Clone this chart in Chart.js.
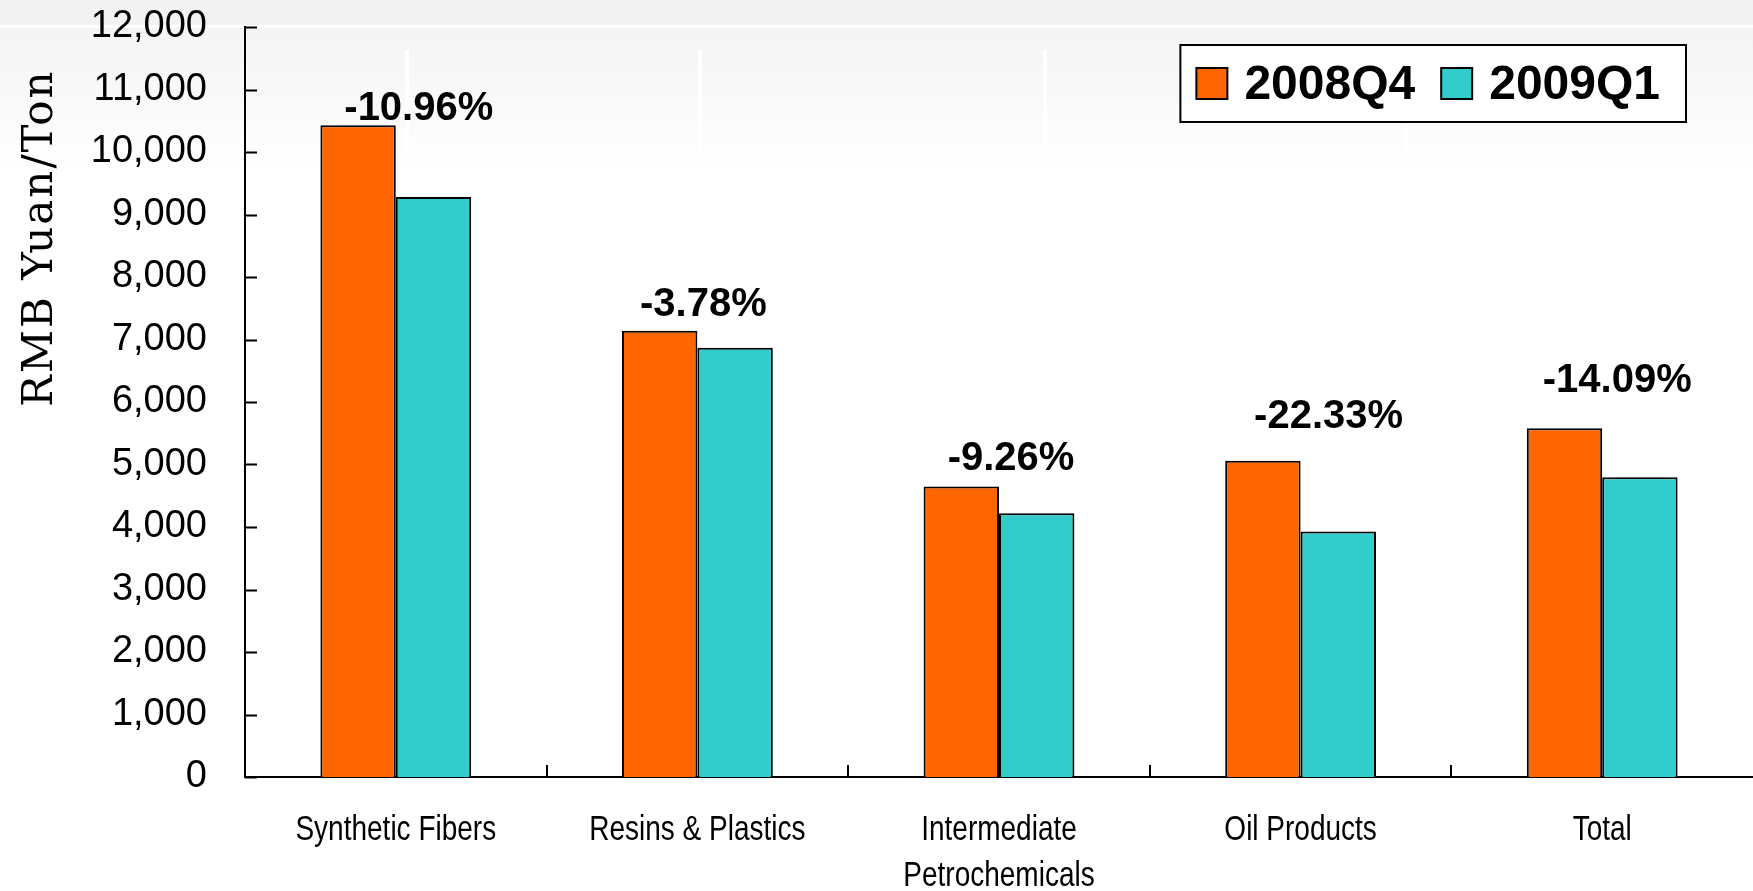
<!DOCTYPE html>
<html>
<head>
<meta charset="utf-8">
<script src="https://cdn.jsdelivr.net/npm/chart.js@4.4.1/dist/chart.umd.min.js"></script>
<style>
  html, body { margin: 0; padding: 0; background: #fff; }
  #wrap { width: 1753px; height: 891px; }
</style>
</head>
<body>
<div id="wrap"><canvas id="chart" width="1753" height="891"></canvas></div>
<script>
/* ── Data ──────────────────────────────────────────────── */
const categories   = [["Synthetic Fibers"], ["Resins & Plastics"], ["Intermediate", "Petrochemicals"], ["Oil Products"], ["Total"]];
const seriesNames  = ["2008Q4", "2009Q1"];
const price2008Q4  = [10430, 7140, 4650, 5060, 5580];
const price2009Q1  = [9280, 6870, 4220, 3930, 4795];
const changeLabels = ["-10.96%", "-3.78%", "-9.26%", "-22.33%", "-14.09%"];
const yMin = 0, yMax = 12000, yStep = 1000;
const yTitle = "RMB Yuan/Ton";

const ORANGE = "#FF6600";
const TEAL   = "#33CCCC";
const SANS   = "'Liberation Sans', Arial, sans-serif";

/* ── Slide-ish background ──────────────────────────────── */
const backdrop = {
  id: "backdrop",
  beforeDraw(chart) {
    const { ctx, width, height } = chart;
    ctx.save();
    ctx.fillStyle = "#fff";
    ctx.fillRect(0, 0, width, height);
    ctx.fillStyle = "#f2f2f2";
    ctx.fillRect(0, 0, width, 25);
    const g = ctx.createLinearGradient(0, 28, 0, 175);
    g.addColorStop(0, "#f4f4f4");
    g.addColorStop(1, "#ffffff");
    ctx.fillStyle = g;
    ctx.fillRect(0, 28, width, 147);
    ctx.fillStyle = "rgba(255,255,255,0.95)";
    [407, 700, 1045, 1406].forEach(x => ctx.fillRect(x - 2, 50, 4, 100));
    ctx.restore();
  },
};

/* ── Inner ticks, category text, change labels, y title, legend box ── */
const decorations = {
  id: "decorations",
  afterDraw(chart, args, opts) {
    const { ctx, chartArea, scales } = chart;
    const x = scales.x, y = scales.y;
    ctx.save();

    // ticks pointing into the plot
    ctx.strokeStyle = "#000";
    ctx.lineWidth = 2;
    ctx.beginPath();
    y.ticks.forEach((t, i) => {
      const py = Math.round(y.getPixelForTick(i)) + 0.5;
      ctx.moveTo(chartArea.left, py);
      ctx.lineTo(chartArea.left + 12, py);
    });
    for (let i = 1; i < categories.length; i++) {
      const px = Math.round((x.getPixelForValue(i - 1) + x.getPixelForValue(i)) / 2);
      ctx.moveTo(px, chartArea.bottom);
      ctx.lineTo(px, chartArea.bottom - 12);
    }
    ctx.stroke();

    // category names, in a narrow face
    ctx.fillStyle = "#000";
    ctx.font = "35px " + SANS;
    ctx.textAlign = "center";
    ctx.textBaseline = "middle";
    categories.forEach((lines, i) => {
      const px = x.getPixelForValue(i);
      lines.forEach((ln, k) => {
        ctx.save();
        ctx.translate(px, chartArea.bottom + 53 + k * 46);
        ctx.scale(0.8, 1);
        ctx.fillText(ln, 0, 0);
        ctx.restore();
      });
    });

    // percentage change above each group
    const m0 = chart.getDatasetMeta(0).data;
    const m1 = chart.getDatasetMeta(1).data;
    ctx.font = "bold 40px " + SANS;
    ctx.textBaseline = "alphabetic";
    changeLabels.forEach((txt, i) => {
      const cx = (m0[i].x + m1[i].x) / 2 + opts.dx[i];
      ctx.fillText(txt, cx, m0[i].y - opts.lift[i]);
    });

    // rotated axis title
    ctx.save();
    ctx.translate(52, 238);
    ctx.rotate(-Math.PI / 2);
    ctx.font = "42px 'DejaVu Serif', serif";
    ctx.letterSpacing = "2px";
    ctx.textAlign = "center";
    ctx.fillText(yTitle, 0, 0);
    ctx.restore();

    // legend box
    const colors = chart.data.datasets.map(d => d.backgroundColor);
    ctx.font = "bold 48px " + SANS;
    const sw = 31, gapSw = 17, gapItem = 26, padL = 16, padR = 26;
    let w = padL + padR;
    seriesNames.forEach((n, i) => {
      w += sw + gapSw + ctx.measureText(n).width + (i ? 0 : gapItem);
    });
    const boxR = 1686, boxT = 45, boxH = 77;
    const boxL = boxR - w;
    ctx.fillStyle = "#fff";
    ctx.fillRect(boxL, boxT, w, boxH);
    ctx.lineWidth = 2;
    ctx.strokeRect(boxL, boxT, w, boxH);
    let cx = boxL + padL;
    const midY = boxT + boxH / 2;
    seriesNames.forEach((n, i) => {
      ctx.fillStyle = colors[i];
      ctx.fillRect(cx, midY - sw / 2, sw, sw);
      ctx.strokeRect(cx, midY - sw / 2, sw, sw);
      cx += sw + gapSw;
      ctx.fillStyle = "#000";
      ctx.textAlign = "left";
      ctx.textBaseline = "middle";
      ctx.fillText(n, cx, midY + 2);
      cx += ctx.measureText(n).width + gapItem;
    });

    ctx.restore();
  },
};

/* ── Chart ─────────────────────────────────────────────── */
new Chart(document.getElementById("chart"), {
  type: "bar",
  data: {
    labels: categories,
    datasets: [
      { label: seriesNames[0], data: price2008Q4, backgroundColor: ORANGE, borderColor: "#000", borderWidth: 2 },
      { label: seriesNames[1], data: price2009Q1, backgroundColor: TEAL,   borderColor: "#000", borderWidth: 2 },
    ],
  },
  plugins: [backdrop, decorations],
  options: {
    responsive: false,
    animation: false,
    devicePixelRatio: 1,
    categoryPercentage: 0.5,
    barPercentage: 1,
    layout: { padding: { top: 27, left: 0, right: 0, bottom: 0 } },
    plugins: {
      legend: { display: false },
      tooltip: { enabled: false },
      decorations: {
        dx:   [23, 6, 12, 28, 15],
        lift: [5, 15, 16, 33, 36],
      },
    },
    scales: {
      x: {
        grid: { display: false, drawTicks: false },
        border: { color: "#000", width: 2 },
        ticks: {
          color: "rgba(0,0,0,0)", padding: 30, autoSkip: false, maxRotation: 0,
          font: { family: SANS, size: 35, lineHeight: 1.32 },
        },
        afterFit(s) { s.height = 114; s.paddingLeft = 0; s.paddingRight = 0; },
      },
      y: {
        min: yMin, max: yMax,
        grid: { display: false, drawTicks: false },
        border: { color: "#000", width: 2 },
        ticks: {
          stepSize: yStep, color: "#000", padding: 38,
          font: { family: SANS, size: 38 },
          callback: v => v.toLocaleString("en-US"),
        },
        afterFit(s) { s.width = 245; s.paddingTop = 0; s.paddingBottom = 0; },
      },
    },
  },
});
</script>
</body>
</html>
